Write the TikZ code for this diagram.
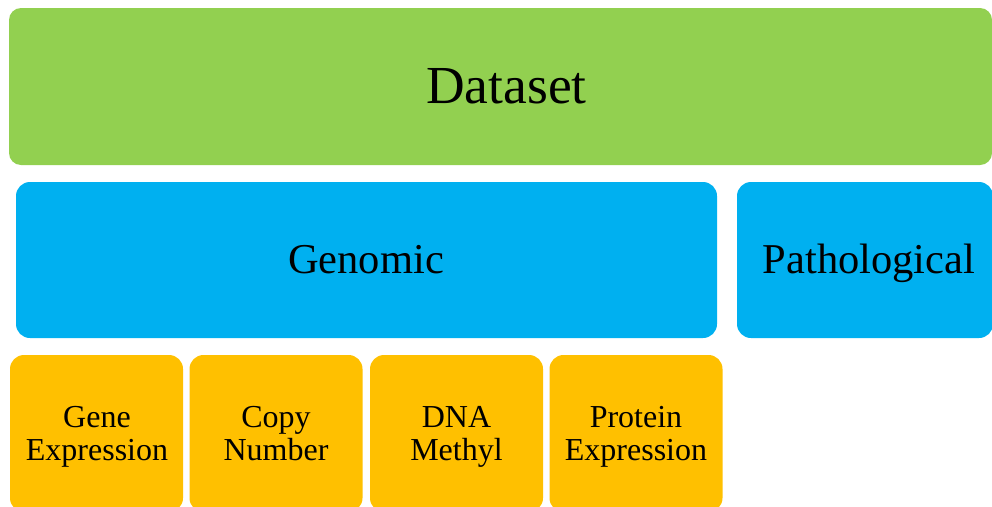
\documentclass[tikz,border=0pt]{standalone}
\usepackage{fontspec}
\setmainfont{Liberation Serif}
\definecolor{dgreen}{HTML}{92D050}
\definecolor{dblue}{HTML}{00B0F0}
\definecolor{dorange}{HTML}{FFC000}
\tikzset{
  box/.style={rectangle, rounded corners=14pt, inner sep=0pt},
  topbox/.style={box, fill=dgreen, rounded corners=12pt},
  midbox/.style={box, fill=dblue},
  leafbox/.style={box, fill=dorange, minimum width=173pt, minimum height=157pt},
  lbl/.style={anchor=base, inner sep=0pt, text=black, align=center},
  toptxt/.style={lbl, font=\fontsize{53.5}{58}\selectfont},
  midtxt/.style={lbl, font=\fontsize{42.5}{46}\selectfont},
  leaftxt/.style={lbl, font=\fontsize{32}{33}\selectfont},
}
\begin{document}
\begin{tikzpicture}[x=1pt,y=-1pt]
\useasboundingbox (0,0) rectangle (992,506);
\clip (0,0) rectangle (992,506);
\node[topbox, minimum width=983pt, minimum height=157pt] (dataset) at (500.5,86.5) {};
\node[midbox, minimum width=701pt, minimum height=156pt] (genomic) at (366.5,260) {};
\node[midbox, minimum width=256pt, minimum height=156pt] (patho) at (865,260) {};
\node[leafbox] (gene) at (96.5,433.5) {};
\node[leafbox] (copy) at (276,433.5) {};
\node[leafbox] (dna) at (456.5,433.5) {};
\node[leafbox] (prot) at (636,433.5) {};
\node[toptxt] (tdataset) at (506.5,103) {Dataset};
\node[midtxt] (tgenomic) at (366,273) {Genomic};
\node[midtxt] (tpatho) at (869,273) {Pathological};
\node[leaftxt] (tgene) at (97,460) {Gene\\Expression};
\node[leaftxt] (tcopy) at (276,460) {Copy\\Number};
\node[leaftxt] (tdna) at (456.5,460) {DNA\\Methyl};
\node[leaftxt] (tprot) at (636,460) {Protein\\Expression};
\end{tikzpicture}
\end{document}
